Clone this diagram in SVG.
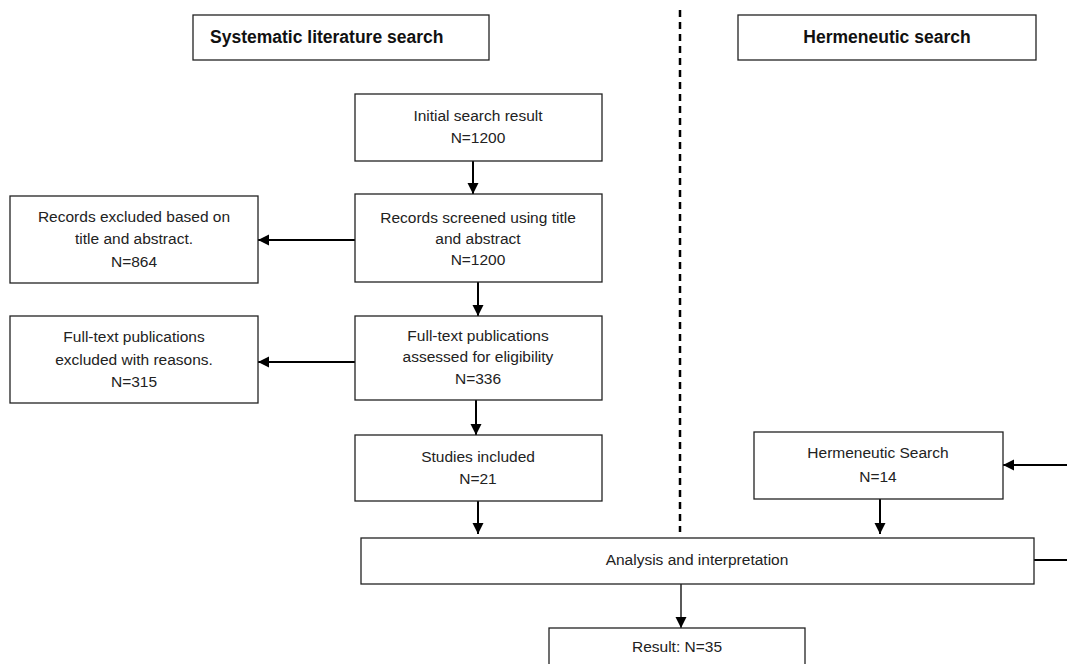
<svg xmlns="http://www.w3.org/2000/svg" width="1067" height="664" viewBox="0 0 1067 664">
<defs>
<style>
.box{fill:#fff;stroke:#222;stroke-width:1.3}
.t{font-family:"Liberation Sans",Arial,sans-serif;font-size:15.5px;fill:#222;text-anchor:middle}
.h{font-family:"Liberation Sans",Arial,sans-serif;font-size:17.5px;font-weight:bold;fill:#111}
.c{stroke:#000;stroke-width:2;fill:none}
.thin{stroke:#000;stroke-width:1.3;fill:none}
</style>
<marker id="ah" markerWidth="12" markerHeight="12" refX="11" refY="6" orient="auto" markerUnits="userSpaceOnUse" viewBox="0 0 12 12">
<path d="M0,0.5 L11,6 L0,11.5 z" fill="#000"/>
</marker>
</defs>
<rect width="1067" height="664" fill="#fff"/>

<g id="connectors">
<line x1="680" y1="10" x2="680" y2="532" stroke="#000" stroke-width="2.5" stroke-dasharray="7 5"/>
<line class="c" x1="473" y1="161" x2="473" y2="194" marker-end="url(#ah)"/>
<line class="c" x1="478" y1="282" x2="478" y2="316" marker-end="url(#ah)"/>
<line class="c" x1="476" y1="400" x2="476" y2="435" marker-end="url(#ah)"/>
<line class="c" x1="478" y1="501" x2="478" y2="534" marker-end="url(#ah)"/>
<line class="c" x1="355" y1="240" x2="258" y2="240" marker-end="url(#ah)"/>
<line class="c" x1="355" y1="362" x2="258" y2="362" marker-end="url(#ah)"/>
<line class="c" x1="1067" y1="465" x2="1003" y2="465" marker-end="url(#ah)"/>
<line class="c" x1="880" y1="499" x2="880" y2="534" marker-end="url(#ah)"/>
<line class="c" x1="1034" y1="560" x2="1067" y2="560"/>
<line class="thin" x1="681" y1="584" x2="681" y2="628" marker-end="url(#ah)"/>
</g>

<g id="systematic">
<rect class="box" x="193" y="15" width="296" height="45"/>
<text class="h" x="210" y="43">Systematic literature search</text>
</g>
<g id="hermeneutic">
<rect class="box" x="738" y="15" width="298" height="45"/>
<text class="h" x="887" y="43" text-anchor="middle">Hermeneutic search</text>
</g>

<g id="initial">
<rect class="box" x="355" y="94" width="247" height="67"/>
<text class="t" x="478" y="121">Initial search result</text>
<text class="t" x="478" y="143">N=1200</text>
</g>
<g id="screened">
<rect class="box" x="355" y="194" width="247" height="88"/>
<text class="t" x="478" y="223">Records screened using title</text>
<text class="t" x="478" y="244">and abstract</text>
<text class="t" x="478" y="265">N=1200</text>
</g>
<g id="fulltext">
<rect class="box" x="355" y="316" width="247" height="84"/>
<text class="t" x="478" y="341">Full-text publications</text>
<text class="t" x="478" y="362">assessed for eligibility</text>
<text class="t" x="478" y="384">N=336</text>
</g>
<g id="studies">
<rect class="box" x="355" y="435" width="247" height="66"/>
<text class="t" x="478" y="462">Studies included</text>
<text class="t" x="478" y="484">N=21</text>
</g>
<g id="excluded1">
<rect class="box" x="10" y="196" width="248" height="87"/>
<text class="t" x="134" y="222">Records excluded based on</text>
<text class="t" x="134" y="244">title and abstract.</text>
<text class="t" x="134" y="267">N=864</text>
</g>
<g id="excluded2">
<rect class="box" x="10" y="316" width="248" height="87"/>
<text class="t" x="134" y="342">Full-text publications</text>
<text class="t" x="134" y="365">excluded with reasons.</text>
<text class="t" x="134" y="387">N=315</text>
</g>
<g id="hsearch">
<rect class="box" x="754" y="432" width="249" height="67"/>
<text class="t" x="878" y="458">Hermeneutic Search</text>
<text class="t" x="878" y="482">N=14</text>
</g>
<g id="analysis">
<rect class="box" x="361" y="538" width="673" height="46"/>
<text class="t" x="697" y="565">Analysis and interpretation</text>
</g>
<g id="result">
<rect class="box" x="549" y="628" width="256" height="50"/>
<text class="t" x="677" y="652">Result: N=35</text>
</g>
</svg>
